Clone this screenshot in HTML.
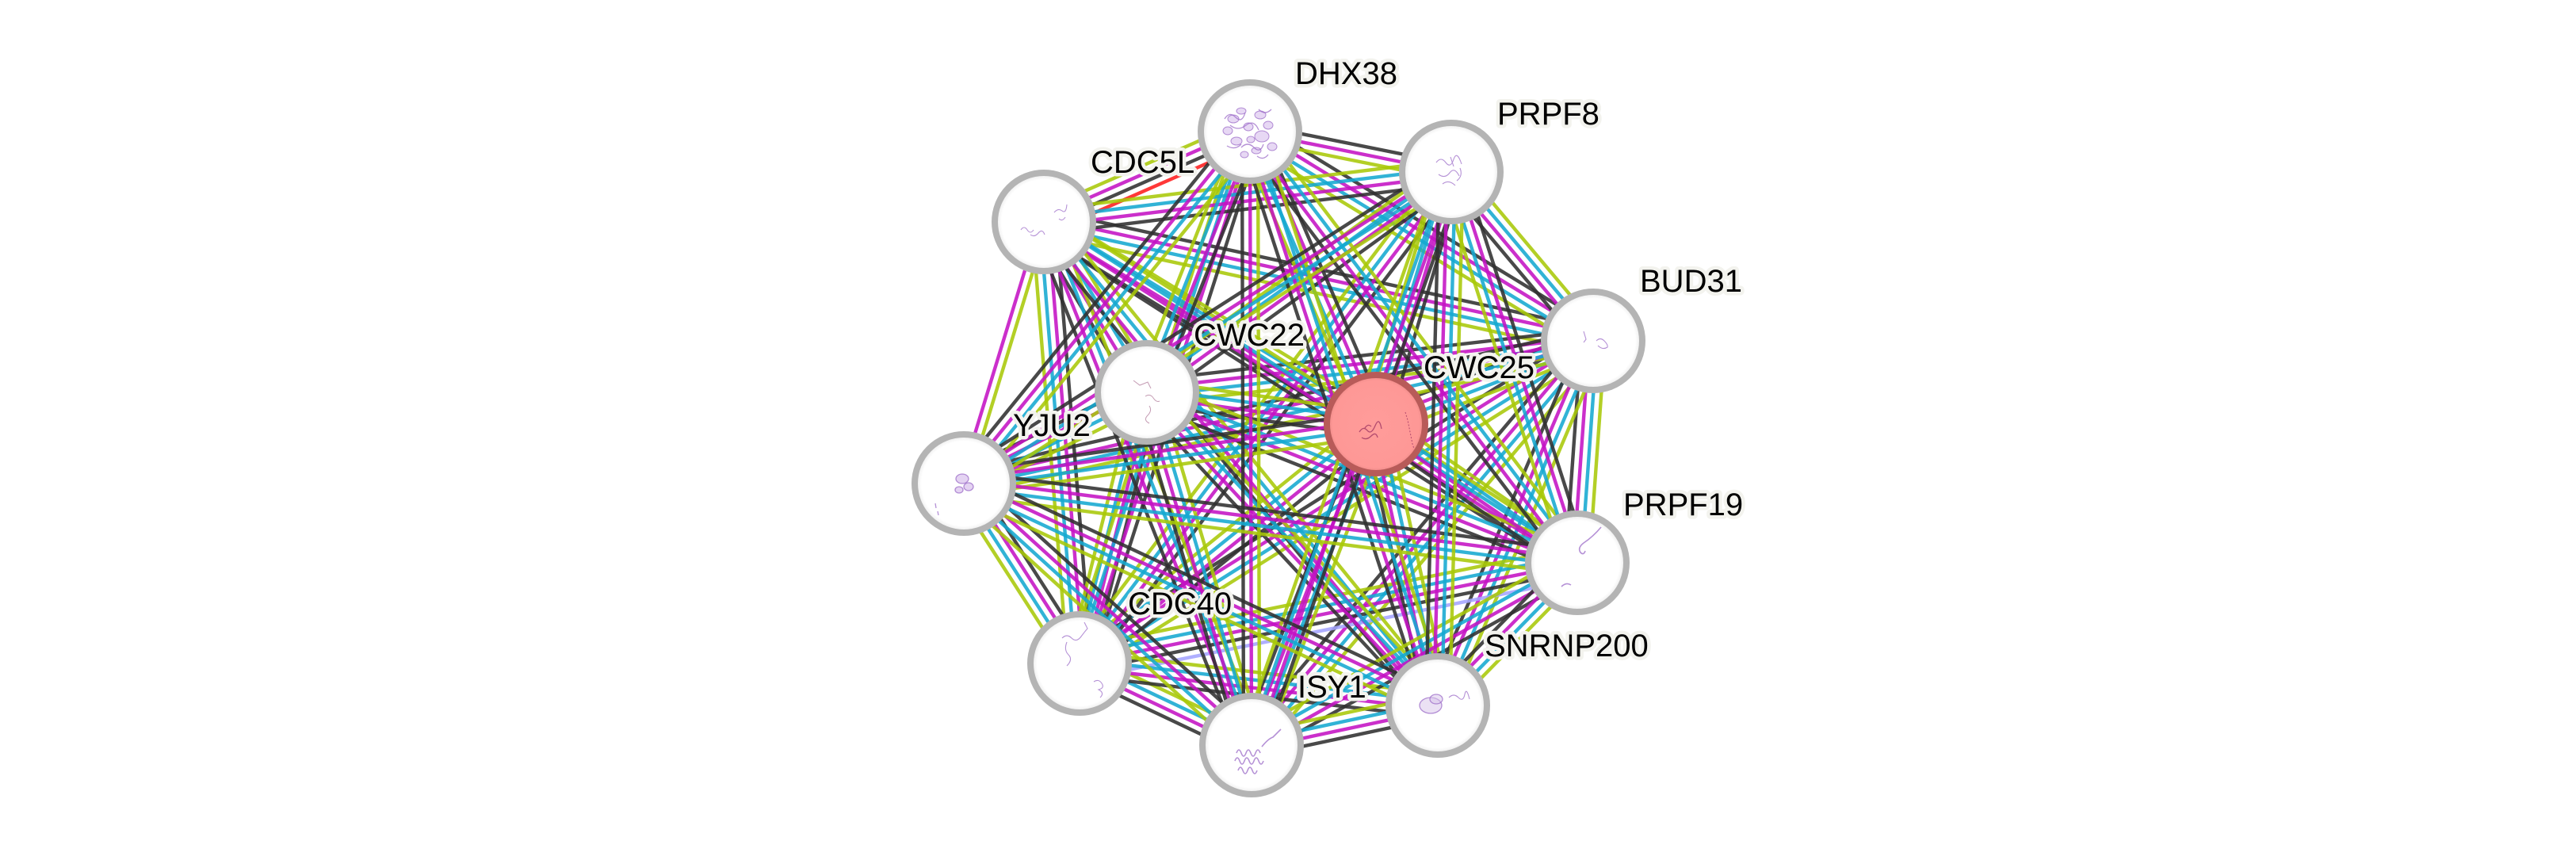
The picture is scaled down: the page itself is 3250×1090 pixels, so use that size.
<!DOCTYPE html>
<html>
<head>
<meta charset="utf-8">
<style>
  html, body { margin: 0; padding: 0; background: #ffffff; }
  svg { display: block; }
  .lbl { font-family: "Liberation Sans", Arial, sans-serif; font-size: 40px; fill: #000; stroke: #f3f3ee; stroke-width: 9px; stroke-linejoin: round; paint-order: stroke; }
</style>
</head>
<body>
<svg width="3250" height="1090" viewBox="0 0 3250 1090" xmlns="http://www.w3.org/2000/svg" xmlns:xlink="http://www.w3.org/1999/xlink">
  <defs>
    <radialGradient id="ng" cx="50%" cy="50%" r="50%">
      <stop offset="0" stop-color="#ffffff"/>
      <stop offset="0.86" stop-color="#ffffff"/>
      <stop offset="1" stop-color="#e6e6e6"/>
    </radialGradient>
    <radialGradient id="rg" cx="50%" cy="50%" r="50%">
      <stop offset="0" stop-color="#ff9c9a"/>
      <stop offset="0.88" stop-color="#fe9896"/>
      <stop offset="1" stop-color="#e88684"/>
    </radialGradient>
    <g id="e4" stroke-width="4.4" stroke-opacity="0.88">
      <line x1="0" y1="15" x2="1" y2="15" stroke="#303030"/>
      <line x1="0" y1="5" x2="1" y2="5" stroke="#c412c4"/>
      <line x1="0" y1="-5" x2="1" y2="-5" stroke="#14a8d0"/>
      <line x1="0" y1="-15" x2="1" y2="-15" stroke="#a8c808"/>
    </g>
    <g id="e3" stroke-width="4.4" stroke-opacity="0.88">
      <line x1="0" y1="10" x2="1" y2="10" stroke="#303030"/>
      <line x1="0" y1="0" x2="1" y2="0" stroke="#c412c4"/>
      <line x1="0" y1="-10" x2="1" y2="-10" stroke="#a8c808"/>
    </g>
    <g id="e2" stroke-width="4.4" stroke-opacity="0.88">
      <line x1="0" y1="5" x2="1" y2="5" stroke="#c412c4"/>
      <line x1="0" y1="-5" x2="1" y2="-5" stroke="#a8c808"/>
    </g>
    <g id="eR" stroke-width="4.4" stroke-opacity="0.88">
      <line x1="0" y1="15" x2="1" y2="15" stroke="#ff1c1c"/>
      <line x1="0" y1="5" x2="1" y2="5" stroke="#303030"/>
      <line x1="0" y1="-5" x2="1" y2="-5" stroke="#c412c4"/>
      <line x1="0" y1="-15" x2="1" y2="-15" stroke="#a8c808"/>
    </g>
    <g id="e5" stroke-width="4.4" stroke-opacity="0.88">
      <line x1="0" y1="20" x2="1" y2="20" stroke="#a4a4ff"/>
      <line x1="0" y1="10" x2="1" y2="10" stroke="#303030"/>
      <line x1="0" y1="0" x2="1" y2="0" stroke="#c412c4"/>
      <line x1="0" y1="-10" x2="1" y2="-10" stroke="#14a8d0"/>
      <line x1="0" y1="-20" x2="1" y2="-20" stroke="#a8c808"/>
    </g>
  </defs>

  <rect x="0" y="0" width="3250" height="1090" fill="#ffffff"/>

  <!-- EDGES -->
  <g>
    <!-- BUD31 -->
    <use href="#e4" transform="translate(2010 430) rotate(147.87) scale(765.2 1)"/>
    <use href="#e4" transform="translate(2010 430) rotate(-167.79) scale(709 1)"/>
    <use href="#e4" transform="translate(2010 430) rotate(173.41) scale(566.7 1)"/>
    <use href="#e4" transform="translate(2010 430) rotate(159.03) scale(293.4 1)"/>
    <use href="#e4" transform="translate(2010 430) rotate(-148.63) scale(507.1 1)"/>
    <use href="#e4" transform="translate(2010 430) rotate(130.20) scale(667.7 1)"/>
    <use href="#e4" transform="translate(2010 430) rotate(94.09) scale(280.7 1)"/>
    <use href="#e4" transform="translate(1831 217) rotate(49.96) scale(278.2 1)"/>
    <use href="#e4" transform="translate(2010 430) rotate(113.08) scale(500 1)"/>
    <use href="#e4" transform="translate(2010 430) rotate(167.23) scale(814.2 1)"/>
    <!-- CDC40 -->
    <use href="#e4" transform="translate(1362 837) rotate(-94.62) scale(558.8 1)"/>
    <use href="#e4" transform="translate(1362 837) rotate(-76.04) scale(352.4 1)"/>
    <use href="#e4" transform="translate(1362 837) rotate(-38.92) scale(480.7 1)"/>
    <use href="#e4" transform="translate(1362 837) rotate(-72.23) scale(704.6 1)"/>
    <use href="#e4" transform="translate(1362 837) rotate(25.39) scale(240.2 1)"/>
    <use href="#e5" transform="translate(1362 837) rotate(-11.43) scale(640.7 1)"/>
    <use href="#e4" transform="translate(1362 837) rotate(-52.89) scale(777.4 1)"/>
    <use href="#e4" transform="translate(1362 837) rotate(6.69) scale(455.1 1)"/>
    <use href="#e4" transform="translate(1362 837) rotate(-122.75) scale(269.9 1)"/>
    <!-- CDC5L -->
    <use href="#e4" transform="translate(1317 280) rotate(58.84) scale(251.2 1)"/>
    <use href="#e4" transform="translate(1317 280) rotate(31.32) scale(490.5 1)"/>
    <use href="#eR" transform="translate(1317 280) rotate(-23.68) scale(283.9 1)"/>
    <use href="#e4" transform="translate(1317 280) rotate(68.35) scale(710.1 1)"/>
    <use href="#e4" transform="translate(1317 280) rotate(32.58) scale(798.6 1)"/>
    <use href="#e4" transform="translate(1317 280) rotate(-6.99) scale(517.8 1)"/>
    <use href="#e4" transform="translate(1317 280) rotate(50.83) scale(786.8 1)"/>
    <use href="#e2" transform="translate(1317 280) rotate(107.02) scale(345.1 1)"/>
    <!-- CWC22 -->
    <use href="#e4" transform="translate(1447 495) rotate(7.88) scale(291.8 1)"/>
    <use href="#e4" transform="translate(1447 495) rotate(-68.44) scale(353.8 1)"/>
    <use href="#e4" transform="translate(1447 495) rotate(73.48) scale(464.2 1)"/>
    <use href="#e4" transform="translate(1447 495) rotate(21.60) scale(584 1)"/>
    <use href="#e4" transform="translate(1447 495) rotate(-35.90) scale(474.1 1)"/>
    <use href="#e4" transform="translate(1447 495) rotate(47.11) scale(539.2 1)"/>
    <use href="#e4" transform="translate(1447 495) rotate(153.53) scale(258 1)"/>
    <!-- CWC25 -->
    <use href="#e4" transform="translate(1736 535) rotate(-113.31) scale(401.8 1)"/>
    <use href="#e4" transform="translate(1736 535) rotate(111.19) scale(434.4 1)"/>
    <use href="#e4" transform="translate(1736 535) rotate(34.56) scale(308.5 1)"/>
    <use href="#e4" transform="translate(1736 535) rotate(-73.37) scale(331.9 1)"/>
    <use href="#e4" transform="translate(1736 535) rotate(77.61) scale(363.5 1)"/>
    <use href="#e4" transform="translate(1736 535) rotate(171.79) scale(525.4 1)"/>
    <!-- DHX38 -->
    <use href="#e3" transform="translate(1577 166) rotate(89.85) scale(774 1)"/>
    <use href="#e4" transform="translate(1577 166) rotate(52.79) scale(683 1)"/>
    <use href="#e3" transform="translate(1831 217) rotate(191.35) scale(259.1 1)"/>
    <use href="#e4" transform="translate(1577 166) rotate(71.88) scale(761.8 1)"/>
    <use href="#e4" transform="translate(1577 166) rotate(129.11) scale(572.2 1)"/>
    <!-- ISY1 -->
    <use href="#e4" transform="translate(1579 940) rotate(-29.23) scale(471 1)"/>
    <use href="#e4" transform="translate(1579 940) rotate(-70.78) scale(765.7 1)"/>
    <use href="#e4" transform="translate(1579 940) rotate(-12.01) scale(240.3 1)"/>
    <use href="#e4" transform="translate(1579 940) rotate(-137.73) scale(490.6 1)"/>
    <!-- PRPF19 -->
    <use href="#e4" transform="translate(1990 710) rotate(-107.87) scale(518 1)"/>
    <use href="#e4" transform="translate(1990 710) rotate(134.36) scale(251.7 1)"/>
    <use href="#e4" transform="translate(1990 710) rotate(-172.64) scale(780.4 1)"/>
    <!-- PRPF8 -->
    <use href="#e4" transform="translate(1831 217) rotate(91.45) scale(673.2 1)"/>
    <use href="#e4" transform="translate(1831 217) rotate(147.42) scale(729.8 1)"/>
    <!-- SNRNP200 -->
    <use href="#e4" transform="translate(1814 890) rotate(-154.91) scale(660.3 1)"/>
  </g>

  <!-- NODES -->
  <g stroke="#b4b4b4" stroke-width="8" fill="url(#ng)">
    <circle cx="1577" cy="166" r="62"/>
    <circle cx="1831" cy="217" r="62"/>
    <circle cx="1317" cy="280" r="62"/>
    <circle cx="2010" cy="430" r="62"/>
    <circle cx="1447" cy="495" r="62"/>
    <circle cx="1216" cy="610" r="62"/>
    <circle cx="1990" cy="710" r="62"/>
    <circle cx="1362" cy="837" r="62"/>
    <circle cx="1814" cy="890" r="62"/>
    <circle cx="1579" cy="940" r="62"/>
  </g>
  <circle cx="1736" cy="535" r="62" fill="url(#rg)" stroke="#b85b59" stroke-width="8"/>

  <!-- protein structure scribbles -->
  <g fill="none" stroke="#9c6cc8" stroke-width="1.3" stroke-opacity="0.75">
    <!-- DHX38 dense -->
    <g fill="#c9a8e6" fill-opacity="0.45" stroke-width="1">
      <ellipse cx="1556" cy="150" rx="7" ry="5"/>
      <ellipse cx="1566" cy="140" rx="6" ry="4"/>
      <ellipse cx="1549" cy="165" rx="6" ry="5"/>
      <ellipse cx="1560" cy="178" rx="7" ry="5"/>
      <ellipse cx="1575" cy="160" rx="6" ry="5"/>
      <ellipse cx="1590" cy="145" rx="7" ry="5"/>
      <ellipse cx="1600" cy="158" rx="6" ry="5"/>
      <ellipse cx="1592" cy="172" rx="9" ry="7"/>
      <ellipse cx="1605" cy="185" rx="6" ry="5"/>
      <ellipse cx="1585" cy="190" rx="6" ry="4"/>
      <ellipse cx="1570" cy="195" rx="5" ry="4"/>
      <ellipse cx="1578" cy="176" rx="5" ry="4"/>
    </g>
    <path d="M1545 150 q6 -10 14 -2 t12 -6 M1588 138 q8 8 16 0 M1548 184 q10 6 18 -2 M1600 195 q-6 8 -14 2 M1552 158 q10 8 20 0 t16 6 M1566 186 q8 -8 16 0 t12 -4"/>
    <!-- PRPF8 -->
    <path d="M1812 205 q6 -8 12 0 t10 -4 t10 6 M1815 220 q8 6 14 -2 t12 4 M1820 232 q8 -6 16 2 M1830 198 l4 12 M1842 212 q4 10 -4 16" stroke-width="1.1"/>
    <!-- CDC5L -->
    <path d="M1288 290 q4 -6 8 0 t8 0 M1300 296 q5 4 10 -2 t8 2 M1330 268 q5 -6 10 -2 t6 -8 M1336 276 q4 4 8 -2" stroke-width="1.1"/>
    <!-- BUD31 -->
    <path d="M1998 418 l3 10 l-3 4 M2014 430 q5 -5 10 0 t4 8 q-6 4 -12 -2" stroke-width="1.1"/>
    <!-- CWC22 -->
    <path d="M1430 480 l8 6 l10 -4 l4 8 M1445 500 q6 -4 10 2 t8 4 M1450 512 q4 6 -2 12 t2 10" stroke-width="1" stroke="#b07a9a"/>
    <!-- YJU2 -->
    <g fill="#c9a8e6" fill-opacity="0.5">
      <ellipse cx="1214" cy="604" rx="8" ry="6"/>
      <ellipse cx="1222" cy="614" rx="6" ry="5"/>
      <ellipse cx="1210" cy="618" rx="5" ry="4"/>
    </g>
    <path d="M1180 635 l1 6 M1183 645 l1 5" stroke-width="1.3"/>
    <!-- PRPF19 -->
    <path d="M2020 665 q-10 12 -22 20 q-8 6 -4 12 q4 4 6 -2 M1970 740 q6 -6 12 -2" stroke-width="1.6"/>
    <!-- CDC40 -->
    <path d="M1340 805 q6 -6 12 0 t12 -2 t8 -10 l-4 -8 M1346 810 q-4 10 2 16 t-2 14 M1380 860 q6 -4 10 2 t-4 8 q8 4 2 10" stroke-width="1.1"/>
    <!-- SNRNP200 -->
    <g fill="#d7c4ea" fill-opacity="0.5">
      <ellipse cx="1805" cy="890" rx="14" ry="10"/>
      <ellipse cx="1812" cy="882" rx="8" ry="6"/>
    </g>
    <path d="M1828 880 q6 -6 12 0 t8 -4 t6 6" stroke-width="1.1"/>
    <!-- ISY1 -->
    <path d="M1558 960 q3 -8 6 0 t6 0 t6 0 t6 0 t6 0 t6 0 M1560 950 q3 -8 6 0 t6 0 t6 0 t6 0 t6 0 M1562 972 q3 -8 6 0 t6 0 t6 0 t6 0 M1592 942 q8 -10 14 -12 l10 -10" stroke-width="1.6"/>
    <!-- CWC25 -->
    <path d="M1715 545 q5 -8 10 -2 t10 -6 t8 4 M1718 552 q6 4 12 -2 t8 2 M1722 540 q4 -6 8 -2" stroke="#9a3060" stroke-width="1.3"/>
    <path d="M1773 520 l3 10 l2 10 l2 10 l2 10 l2 6" stroke="#9a3060" stroke-width="1" stroke-dasharray="2 2"/>
  </g>

  <!-- LABELS -->
  <g>
    <text class="lbl" x="1634" y="106">DHX38</text>
    <text class="lbl" x="1889" y="157">PRPF8</text>
    <text class="lbl" x="1376" y="218">CDC5L</text>
    <text class="lbl" x="2069" y="368">BUD31</text>
    <text class="lbl" x="1506" y="436">CWC22</text>
    <text class="lbl" x="1796" y="477">CWC25</text>
    <text class="lbl" x="1278" y="550">YJU2</text>
    <text class="lbl" x="2048" y="650">PRPF19</text>
    <text class="lbl" x="1423" y="775">CDC40</text>
    <text class="lbl" x="1873" y="828">SNRNP200</text>
    <text class="lbl" x="1637" y="880">ISY1</text>
  </g>
</svg>
</body>
</html>
